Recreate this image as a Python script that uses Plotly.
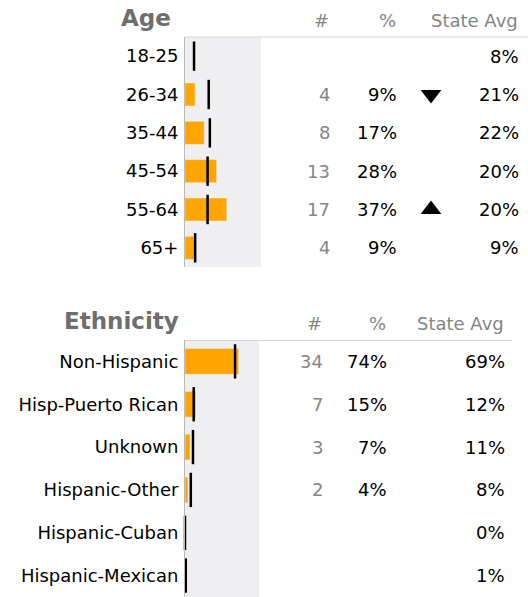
import plotly.graph_objects as go

# ---------------- data ----------------
age_groups = ["18-25", "26-34", "35-44", "45-54", "55-64", "65+"]
age_counts = [None, 4, 8, 13, 17, 4]
age_pct = [None, 9, 17, 28, 37, 9]
age_state = [8, 21, 22, 20, 20, 9]
age_flag = [None, "down", None, None, "up", None]

eth_groups = ["Non-Hispanic", "Hisp-Puerto Rican", "Unknown", "Hispanic-Other",
              "Hispanic-Cuban", "Hispanic-Mexican"]
eth_counts = [34, 7, 3, 2, None, None]
eth_pct = [74, 15, 7, 4, None, None]
eth_state = [69, 12, 11, 8, 0, 1]

# ---------------- layout constants ----------------
W, H = 528, 597
FONT = "DejaVu Sans, Verdana, sans-serif"
ORANGE = "#FFA500"
BAND = "#EFEFF1"
GRAY_TXT = "#858585"
HEAD_TXT = "#6E6E6E"

def px(x):
    return x / W

def py(y):
    return 1 - y / H

fig = go.Figure()

# Age panel traces
fig.add_trace(go.Bar(x=age_pct, y=age_groups, orientation="h", marker_color=ORANGE,
                     width=0.6, xaxis="x", yaxis="y", hoverinfo="skip"))
fig.add_trace(go.Scatter(x=age_state, y=age_groups, mode="markers", xaxis="x", yaxis="y",
                         marker=dict(symbol="line-ns", size=21, color="black",
                                     line=dict(width=2.5, color="black")),
                         cliponaxis=False, hoverinfo="skip"))
# trend triangles
for flag, sym in (("down", "triangle-down"), ("up", "triangle-up")):
    ys = [g for g, f in zip(age_groups, age_flag) if f == flag]
    fig.add_trace(go.Scatter(x=[0.5] * len(ys), y=ys, mode="markers", xaxis="x3", yaxis="y",
                             marker=dict(symbol=sym, size=18, color="black"),
                             cliponaxis=False, hoverinfo="skip"))

# Ethnicity panel traces
fig.add_trace(go.Bar(x=eth_pct, y=eth_groups, orientation="h", marker_color=ORANGE,
                     width=0.6, xaxis="x2", yaxis="y2", hoverinfo="skip"))
fig.add_trace(go.Scatter(x=eth_state, y=eth_groups, mode="markers", xaxis="x2", yaxis="y2",
                         marker=dict(symbol="line-ns", size=24.5, color="black",
                                     line=dict(width=2.5, color="black")),
                         cliponaxis=False, hoverinfo="skip"))

age_dom_y = [py(267), py(37)]
eth_dom_y = [max(0, py(597)), py(340)]
n_age, n_eth = len(age_groups), len(eth_groups)

fig.update_layout(
    width=W, height=H,
    margin=dict(l=0, r=0, t=0, b=0),
    paper_bgcolor="white",
    plot_bgcolor="rgba(0,0,0,0)",
    showlegend=False,
    font=dict(family=FONT, size=18, color="black"),
    xaxis=dict(domain=[px(185), px(261)], range=[0, 67.3], anchor="y",
               showgrid=False, zeroline=False, showticklabels=False, ticks=""),
    yaxis=dict(domain=age_dom_y, anchor="x", categoryorder="array",
               categoryarray=age_groups, range=[n_age - 0.5, -0.5],
               showgrid=False, zeroline=False, ticks="", showline=True,
               linecolor="#B8B8B8", linewidth=1, ticklabelstandoff=2,
               tickfont=dict(size=18, color="black")),
    xaxis3=dict(domain=[px(421), px(441)], range=[0, 1], anchor="y",
                visible=False, showgrid=False, zeroline=False),
    xaxis2=dict(domain=[px(185), px(259)], range=[0, 102], anchor="y2",
                showgrid=False, zeroline=False, showticklabels=False, ticks=""),
    yaxis2=dict(domain=eth_dom_y, anchor="x2", categoryorder="array",
                categoryarray=eth_groups, range=[n_eth - 0.5, -0.5],
                showgrid=False, zeroline=False, ticks="", showline=True,
                linecolor="#B8B8B8", linewidth=1, ticklabelstandoff=2,
                tickfont=dict(size=18, color="black")),
    bargap=0.4,
)

shapes = []
# grey bands
shapes.append(dict(type="rect", xref="x domain", yref="y domain", x0=0, x1=1, y0=0, y1=1,
                   fillcolor=BAND, line=dict(width=0), layer="below"))
shapes.append(dict(type="rect", xref="x2 domain", yref="y2 domain", x0=0, x1=1, y0=0, y1=1,
                   fillcolor=BAND, line=dict(width=0), layer="below"))
# header rules
shapes.append(dict(type="line", xref="paper", yref="paper", x0=px(185), x1=px(528),
                   y0=py(37), y1=py(37), line=dict(color="#D4D4D4", width=1)))
shapes.append(dict(type="line", xref="paper", yref="paper", x0=px(185), x1=px(512),
                   y0=py(340.5), y1=py(340.5), line=dict(color="#D4D4D4", width=1)))
fig.update_layout(shapes=shapes)

ann = []

def header(text, x, y, anchor, size=18, color=GRAY_TXT, bold=False):
    ann.append(dict(text=f"<b>{text}</b>" if bold else text, xref="paper", yref="paper",
                    x=px(x), y=py(y), xanchor=anchor, yanchor="middle", showarrow=False,
                    font=dict(size=size, color=color, family=FONT)))

# Age headers
header("Age", 146, 18, "center", size=23, color=HEAD_TXT, bold=True)
header("#", 331, 20, "right")
header("%", 398, 20, "right")
header("State Avg", 520, 20, "right")
# Ethnicity headers
header("Ethnicity", 121, 321, "center", size=23, color=HEAD_TXT, bold=True)
header("#", 324, 323, "right")
header("%", 388, 323, "right")
header("State Avg", 506, 323, "right")

def columns(groups, counts, pcts, states, yref, xc, xp, xs):
    for g, c, p, s in zip(groups, counts, pcts, states):
        if c is not None:
            ann.append(dict(text=str(c), xref="paper", yref=yref, x=px(xc), y=g,
                            xanchor="right", yanchor="middle", showarrow=False,
                            font=dict(size=18, color=GRAY_TXT, family=FONT)))
        if p is not None:
            ann.append(dict(text=f"{p}%", xref="paper", yref=yref, x=px(xp), y=g,
                            xanchor="right", yanchor="middle", showarrow=False,
                            font=dict(size=18, color="black", family=FONT)))
        ann.append(dict(text=f"{s}%", xref="paper", yref=yref, x=px(xs), y=g,
                        xanchor="right", yanchor="middle", showarrow=False,
                        font=dict(size=18, color="black", family=FONT)))

columns(age_groups, age_counts, age_pct, age_state, "y", 332, 399, 521)
columns(eth_groups, eth_counts, eth_pct, eth_state, "y2", 325, 389, 507)

fig.update_layout(annotations=ann)

fig.write_html("out.html", config={"displayModeBar": False, "staticPlot": True},
               post_script="document.body.style.margin='0';document.body.style.overflow='hidden';")
